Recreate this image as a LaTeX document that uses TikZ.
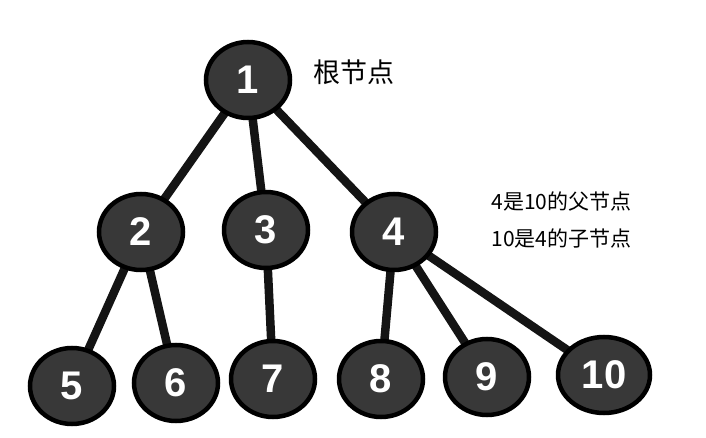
\documentclass[tikz,border=0pt]{standalone}
\usepackage{fontspec}
\setmainfont{Liberation Sans}
\newfontfamily\cjk{Noto Sans CJK SC}
\usetikzlibrary{shapes.geometric, backgrounds}

\tikzset{
    treenode/.style={ellipse, draw=black, line width=4.5pt, fill=black!78,
        minimum width=84pt, minimum height=76pt, inner sep=0pt,
        text=white, font=\fontsize{40}{40}\selectfont\bfseries},
    branch/.style={line width=8.5pt, draw=black!92}
}

\begin{document}
\begin{tikzpicture}[x=1pt, y=-1pt]
                        \useasboundingbox (0, 0) rectangle (706, 438);

                        \node[treenode] (n1) at (248, 80) {1};
                        \node[treenode] (n2) at (141, 232) {2};
                        \node[treenode] (n3) at (266, 230) {3};
                        \node[treenode] (n4) at (394, 232) {4};
                        \node[treenode] (n5) at (72, 386) {5};
                        \node[treenode] (n6) at (176, 383) {6};
                        \node[treenode] (n7) at (273, 379) {7};
                        \node[treenode] (n8) at (381, 379) {8};
                        \node[treenode] (n9) at (487, 377) {9};
                        \node[treenode, minimum width=92pt] (n10) at (604, 375) {10};

                        \begin{scope}[on background layer]
                        \draw[branch]
                        (n1.center) -- (n2.center)
                        (n1.center) -- (n3.center)
                        (n1.center) -- (n4.center)
                        (n2.center) -- (n5.center)
                        (n2.center) -- (n6.center)
                        (n3.center) -- (n7.center)
                        (n4.center) -- (n8.center)
                        (n4.center) -- (n9.center)
                        (n4.center) -- (n10.center);
                        \end{scope}

                        \node[anchor=west, font=\cjk\fontsize{27}{27}\selectfont] (root) at (310, 72) {根节点};
                        \node[anchor=west, font=\cjk\fontsize{21}{21}\selectfont] (parent) at (488, 202) {4是10的父节点};
                        \node[anchor=west, font=\cjk\fontsize{21}{21}\selectfont] (child) at (488, 238) {10是4的子节点};
                    \end{tikzpicture}
\end{document}
